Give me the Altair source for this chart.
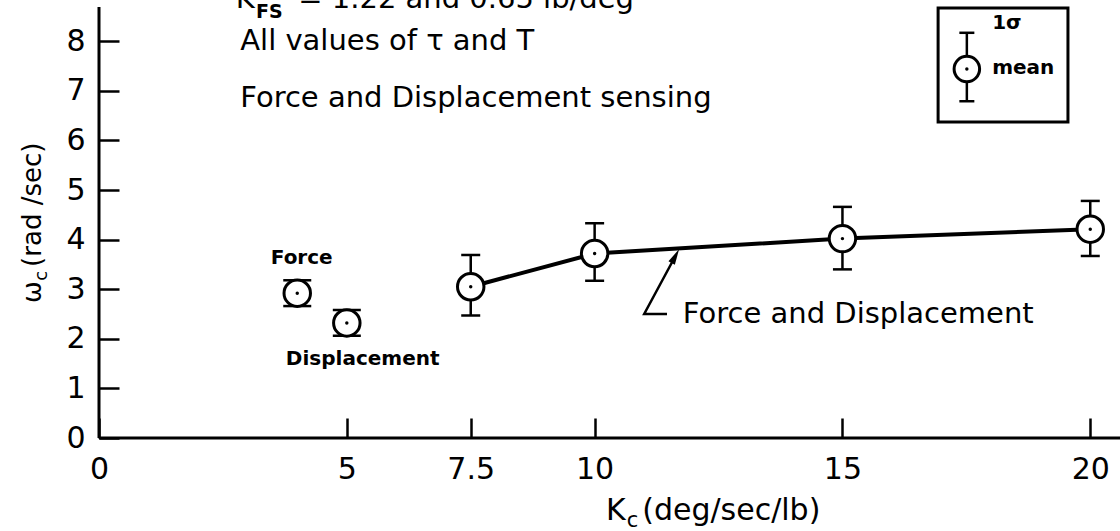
import altair as alt
import pandas as pd

FONT = "DejaVu Sans"

# Crossover frequency vs. control gain, force and displacement sensing combined
kc_both = [7.5, 10, 15, 20]
wc_both = [3.05, 3.72, 4.02, 4.21]
wc_both_lo = [2.47, 3.17, 3.40, 3.67]
wc_both_hi = [3.69, 4.33, 4.66, 4.78]

# Single-sensing runs
kc_single = [4.0, 5.0]
wc_single = [2.92, 2.32]
wc_single_lo = [2.66, 2.06]
wc_single_hi = [3.18, 2.58]
single_names = ["Force", "Displacement"]

# Axis ticks and extents
x_ticks = [0, 5, 7.5, 10, 15, 20]
y_ticks = [0, 1, 2, 3, 4, 5, 6, 7, 8]
X_MAX = 20.6
Y_MAX = 8.69

# Legend sample (mean with 1-sigma band)
legend_kc = [17.51]
legend_wc = [7.44]
legend_lo = [6.79]
legend_hi = [8.17]

x_scale = alt.Scale(domain=[0, X_MAX], nice=False, zero=False)
y_scale = alt.Scale(domain=[0, Y_MAX], nice=False, zero=False)

# Inward ticks: the axis is shifted into the plot by the tick length
x_axis = alt.Axis(
    values=x_ticks, format="~g", orient="bottom", offset=-20, tickSize=20,
    tickWidth=2.5, tickColor="black", domain=False, grid=False,
    labelFont=FONT, labelFontSize=30, labelColor="black", labelPadding=16,
    labelFlush=False, labelOverlap=False, title="",
)
y_axis = alt.Axis(
    values=y_ticks, format="d", orient="left", offset=-20, tickSize=20,
    tickWidth=2.5, tickColor="black", domain=False, grid=False,
    labelFont=FONT, labelFontSize=30, labelColor="black", labelPadding=14,
    labelOverlap=False, title="",
)


def X(field):
    return alt.X(field, type="quantitative", scale=x_scale, axis=x_axis)


def Y(field):
    return alt.Y(field, type="quantitative", scale=y_scale, axis=y_axis)


main_df = pd.DataFrame({"kc": kc_both, "wc": wc_both, "lo": wc_both_lo, "hi": wc_both_hi})
single_df = pd.DataFrame({"kc": kc_single, "wc": wc_single, "lo": wc_single_lo,
                          "hi": wc_single_hi, "name": single_names})
legend_df = pd.DataFrame({"kc": legend_kc, "wc": legend_wc, "lo": legend_lo, "hi": legend_hi})

line = alt.Chart(main_df).mark_line(color="black", strokeWidth=4).encode(
    x=X("kc"), y=Y("wc")
)


def error_marks(df, cap_width, circle_size):
    rule = alt.Chart(df).mark_rule(color="black", strokeWidth=2.5).encode(
        x=X("kc"), y=Y("lo"), y2="hi"
    )
    cap_lo = alt.Chart(df).mark_tick(
        orient="horizontal", size=cap_width, thickness=2.5, color="black", opacity=1
    ).encode(x=X("kc"), y=Y("lo"))
    cap_hi = alt.Chart(df).mark_tick(
        orient="horizontal", size=cap_width, thickness=2.5, color="black", opacity=1
    ).encode(x=X("kc"), y=Y("hi"))
    ring = alt.Chart(df).mark_point(
        shape="circle", size=circle_size, filled=True, fill="white",
        stroke="black", strokeWidth=3, opacity=1
    ).encode(x=X("kc"), y=Y("wc"))
    dot = alt.Chart(df).mark_point(
        shape="circle", size=12, filled=True, color="black", opacity=1
    ).encode(x=X("kc"), y=Y("wc"))
    return [rule, cap_lo, cap_hi, ring, dot]


def label(x, y, text, size, weight="normal", align="left",
          baseline="alphabetic", angle=0):
    df = pd.DataFrame({"x": [x], "y": [y], "t": [text]})
    return alt.Chart(df).mark_text(
        font=FONT, fontSize=size, fontWeight=weight, align=align,
        baseline=baseline, angle=angle, color="black"
    ).encode(x=X("x"), y=Y("y"), text="t:N")


# Axis lines
axis_lines = pd.DataFrame({"x0": [0, 0], "x1": [0, X_MAX], "y0": [0, 0], "y1": [Y_MAX, 0]})
axes = alt.Chart(axis_lines).mark_rule(color="black", strokeWidth=3).encode(
    x=X("x0"), x2="x1", y=Y("y0"), y2="y1"
)

# Legend frame
box_df = pd.DataFrame({"x0": [16.93], "x1": [19.55], "y0": [6.37], "y1": [8.67]})
box = alt.Chart(box_df).mark_rect(
    fillOpacity=0, stroke="black", strokeWidth=3
).encode(x=X("x0"), x2="x1", y=Y("y0"), y2="y1")

# Leader arrow to the connecting line
arrow_df = pd.DataFrame({"x": [11.46, 11.00, 11.63], "y": [2.50, 2.50, 3.67], "i": [0, 1, 2]})
arrow_line = alt.Chart(arrow_df).mark_line(color="black", strokeWidth=2.5).encode(
    x=X("x"), y=Y("y"), order="i:O"
)
head_df = pd.DataFrame({"x": [11.63], "y": [3.67]})
arrow_head = alt.Chart(head_df).mark_point(
    shape="M0,-1L0.45,1L-0.45,1Z", size=256, filled=True, color="black",
    opacity=1, angle=28
).encode(x=X("x"), y=Y("y"))

texts = [
    # header notes
    label(2.76, 8.67, "K", 29),
    label(3.17, 8.47, "FS", 19, weight="bold"),
    label(4.02, 8.67, "= 1.22 and 0.65 lb/deg", 29),
    label(2.85, 7.82, "All values of τ and T", 29),
    label(2.85, 6.67, "Force and Displacement sensing", 29),
    # point labels
    label(4.09, 3.62, "Force", 20, weight="bold", align="center", baseline="middle"),
    label(5.32, 1.60, "Displacement", 20, weight="bold", align="center", baseline="middle"),
    label(11.78, 2.31, "Force and Displacement", 29),
    # legend text
    label(18.02, 8.37, "1σ", 20, weight="bold", baseline="middle"),
    label(18.02, 7.46, "mean", 20, weight="bold", baseline="middle"),
    # x axis title
    label(10.23, -1.65, "K", 30),
    label(10.65, -1.79, "c", 21),
    label(10.96, -1.65, "(deg/sec/lb)", 30),
    # y axis title
    label(-1.17, 2.72, "ω", 26, angle=270),
    label(-1.05, 3.17, "c", 18, angle=270),
    label(-1.17, 3.45, "(rad /sec)", 26, angle=270),
]

layers = (
    [axes, line]
    + error_marks(main_df, 19, 700)
    + error_marks(single_df, 28, 700)
    + [box]
    + error_marks(legend_df, 15, 650)
    + [arrow_line, arrow_head]
    + texts
)

chart = alt.layer(*layers).properties(
    width=1021,
    height=431,
    autosize=alt.AutoSizeParams(type="none"),
    padding={"left": 99, "top": 7, "right": 0, "bottom": 93},
    background="white",
).configure_view(strokeWidth=0)

chart.save("out.html", embed_options={"renderer": "svg", "actions": False})
